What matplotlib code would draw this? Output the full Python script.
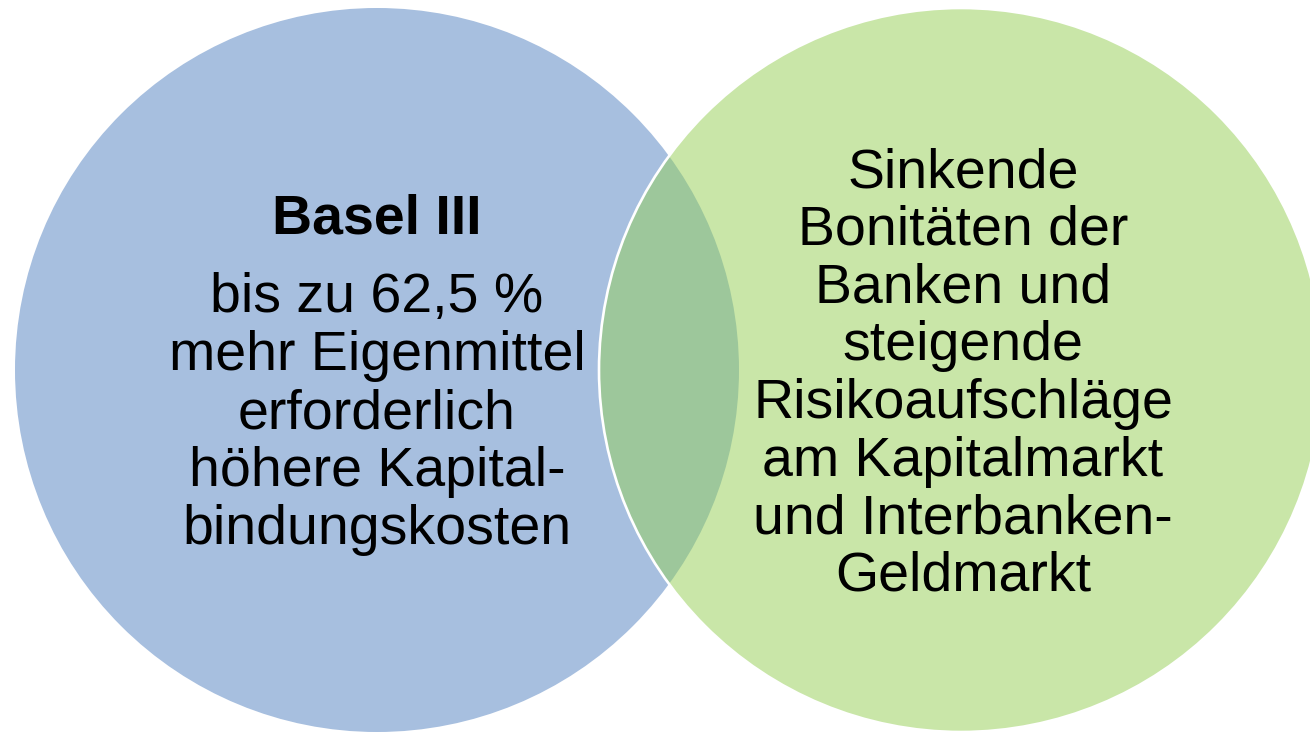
import matplotlib
matplotlib.use("Agg")
import matplotlib.pyplot as plt
from matplotlib.patches import Circle

# circle texts (one entry per line)
left_title = "Basel III"
left_lines = ["bis zu 62,5 %", "mehr Eigenmittel", "erforderlich",
              "höhere Kapital-", "bindungskosten"]
right_lines = ["Sinkende", "Bonitäten der", "Banken und", "steigende",
               "Risikoaufschläge", "am Kapitalmarkt", "und Interbanken-",
               "Geldmarkt"]

# colours
blue = "#a7bfdf"
green = "#c9e6a8"
overlap = "#9dc79b"

W, H = 1310, 735
fig = plt.figure(figsize=(W / 100, H / 100), dpi=100)
ax = fig.add_axes([0, 0, 1, 1])
ax.set_xlim(0, W)
ax.set_ylim(H, 0)
ax.axis("off")

r = 362
cl = (377, 370)
cr = (961, 370)

c1 = Circle(cl, r, facecolor=blue, edgecolor="none", zorder=1)
ax.add_patch(c1)
ax.add_patch(Circle(cr, r, facecolor=green, edgecolor="none", zorder=2))
lens = Circle(cr, r, facecolor=overlap, edgecolor="none", zorder=3)
ax.add_patch(lens)
lens.set_clip_path(c1)
# white outline of the right circle
ax.add_patch(Circle(cr, r, facecolor="none", edgecolor="white", lw=1.9, zorder=4))

fs = 40
font = "Liberation Sans"
step = 58

ax.text(cl[0], 233, left_title, ha="center", va="baseline", fontsize=fs,
        fontweight="bold", family=font, zorder=5)
for i, s in enumerate(left_lines):
    ax.text(cl[0], 312 + i * step, s, ha="center", va="baseline",
            fontsize=fs, family=font, zorder=5)

for i, s in enumerate(right_lines):
    ax.text(963, 187 + i * 57.7, s, ha="center", va="baseline",
            fontsize=fs, family=font, zorder=5)

fig.savefig("out.png", dpi=100)
